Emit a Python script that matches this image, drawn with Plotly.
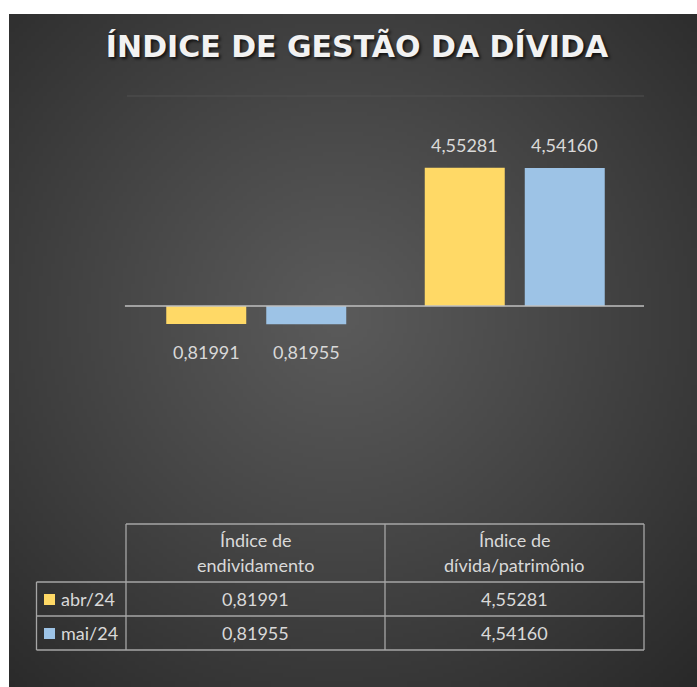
import base64, math, struct, zlib
import plotly.graph_objects as go

# ---------------- data ----------------
categories = ["Índice de endividamento", "Índice de dívida/patrimônio"]
header_lines = [["Índice de", "endividamento"], ["Índice de", "dívida/patrimônio"]]
series_names = ["abr/24", "mai/24"]
abr_values = [0.81991, 4.55281]
mai_values = [0.81955, 4.54160]
series_values = [abr_values, mai_values]
series_colors = ["#FFD966", "#9DC3E6"]
axis_base = 1  # horizontal axis crosses the log value axis at 1
y_log_range = [-1, 1]

def fmt(v):
    return f"{v:.5f}".replace(".", ",")

# ---------------- geometry (pixels) ----------------
W, H = 697, 687
L, R, T, B = 127, 644, 96, 516  # plot area

def px(x):
    return (x - L) / (R - L)

def py(y):
    return (B - y) / (B - T)

def log_to_paper(v):
    return (math.log10(v) - y_log_range[0]) / (y_log_range[1] - y_log_range[0])

# ---------------- background gradient png ----------------
def make_png(w, h):
    rows = []
    cx, cy = 0.48, 0.45
    for j in range(h):
        row = bytearray([0])
        for i in range(w):
            dx = (i / (w - 1) - cx) / 0.75
            dy = (j / (h - 1) - cy) / 0.75
            d = min(1.0, math.sqrt(dx * dx + dy * dy))
            v = int(round(0x5a - (0x5a - 0x29) * d ** 1.1))
            row += bytes([v, v, v])
        rows.append(bytes(row))
    raw = b"".join(rows)

    def chunk(tag, data):
        c = struct.pack(">I", len(data)) + tag + data
        return c + struct.pack(">I", zlib.crc32(tag + data) & 0xFFFFFFFF)

    png = b"\x89PNG\r\n\x1a\n"
    png += chunk(b"IHDR", struct.pack(">IIBBBBB", w, h, 8, 2, 0, 0, 0))
    png += chunk(b"IDAT", zlib.compress(raw, 9))
    png += chunk(b"IEND", b"")
    return "data:image/png;base64," + base64.b64encode(png).decode()

bg_src = make_png(172, 168)

# ---------------- figure ----------------
fig = go.Figure()
for name, vals, col in zip(series_names, series_values, series_colors):
    fig.add_trace(go.Bar(
        x=categories,
        y=[v - axis_base for v in vals],
        base=axis_base,
        name=name,
        marker=dict(color=col, line=dict(width=0)),
        showlegend=False,
        hoverinfo="skip",
    ))

label_color = "#D9D9D9"
font_family = "Lato"
annotations = []
offsets = [-50, 50]
for k, vals in enumerate(series_values):
    for cat, v in zip(categories, vals):
        up = v >= axis_base
        annotations.append(dict(
            x=cat, y=math.log10(v), xref="x", yref="y",
            text=fmt(v), showarrow=False,
            xshift=offsets[k], yshift=10 if up else -15,
            yanchor="bottom" if up else "top",
            font=dict(family=font_family, size=18, color=label_color),
        ))

# ----- data table -----
line_col = "#A6A6A6"
tbl_top, hdr_bot, r1_bot, r2_bot = 524, 582, 616, 650
c_left, c0, c1, c2 = 36.5, 126, 385, 644
shapes = []

def hline(y, x0, x1):
    shapes.append(dict(type="line", xref="paper", yref="paper",
                       x0=px(x0), x1=px(x1), y0=py(y), y1=py(y),
                       line=dict(color=line_col, width=1.3)))

def vline(x, y0, y1):
    shapes.append(dict(type="line", xref="paper", yref="paper",
                       x0=px(x), x1=px(x), y0=py(y0), y1=py(y1),
                       line=dict(color=line_col, width=1.3)))

hline(tbl_top, c0, c2)
for yy in (hdr_bot, r1_bot, r2_bot):
    hline(yy, c_left, c2)
for xx in (c0, c1, c2):
    vline(xx, tbl_top, r2_bot)
vline(c_left, hdr_bot, r2_bot)

# top gridline (value 10) and category axis line at the base value
shapes.append(dict(type="line", xref="paper", yref="paper", x0=0, x1=1,
                   y0=log_to_paper(10), y1=log_to_paper(10),
                   line=dict(color="#505050", width=1.2)))
shapes.append(dict(type="line", xref="paper", yref="paper", x0=-0.004, x1=1,
                   y0=log_to_paper(axis_base), y1=log_to_paper(axis_base),
                   line=dict(color="#BFBFBF", width=1.6)))

col_centers = [(c0 + c1) / 2, (c1 + c2) / 2]
for cc, lines in zip(col_centers, header_lines):
    for ln, yy in zip(lines, (540, 565)):
        annotations.append(dict(x=px(cc), y=py(yy), xref="paper", yref="paper",
                                text=ln, showarrow=False, xanchor="center", yanchor="middle",
                                font=dict(family=font_family, size=18, color=label_color)))
row_centers = [(hdr_bot + r1_bot) / 2, (r1_bot + r2_bot) / 2]
for rc, name, vals, col in zip(row_centers, series_names, series_values, series_colors):
    for cc, v in zip(col_centers, vals):
        annotations.append(dict(x=px(cc), y=py(rc), xref="paper", yref="paper",
                                text=fmt(v), showarrow=False, xanchor="center", yanchor="middle",
                                font=dict(family=font_family, size=18, color=label_color)))
    shapes.append(dict(type="rect", xref="paper", yref="paper",
                       x0=px(44), x1=px(55), y0=py(rc + 6), y1=py(rc - 5),
                       fillcolor=col, line=dict(width=0)))
    annotations.append(dict(x=px(59), y=py(rc), xref="paper", yref="paper",
                            text=name, showarrow=False, xanchor="left", yanchor="middle",
                            font=dict(family=font_family, size=18, color=label_color)))

fig.update_layout(
    width=W, height=H,
    margin=dict(l=L, r=W - R, t=T, b=H - B, pad=0),
    paper_bgcolor="#FFFFFF",
    plot_bgcolor="rgba(0,0,0,0)",
    barmode="group",
    bargap=0.2263,
    bargroupgap=0.2,
    title=dict(
        text="ÍNDICE DE GESTÃO DA DÍVIDA",
        x=357 / W, xanchor="center", xref="container",
        y=1 - 46 / H, yanchor="middle", yref="container",
        font=dict(family="DejaVu Sans", size=30, color="#F2F2F2", weight=700,
                  shadow="2px 2px 3px rgba(0,0,0,0.7)"),
    ),
    xaxis=dict(showticklabels=False, showgrid=False, zeroline=False,
               showline=False, ticks=""),
    yaxis=dict(type="log", range=y_log_range, showticklabels=False, ticks="",
               showgrid=False, zeroline=False, showline=False),
    images=[dict(source=bg_src, xref="paper", yref="paper",
                 x=px(9), y=py(14), sizex=px(W) - px(9), sizey=py(14) - py(H),
                 xanchor="left", yanchor="top", sizing="stretch", layer="below")],
    shapes=shapes,
    annotations=annotations,
)

fig.write_html("out.html", config={"displayModeBar": False},
               post_script="document.body.style.margin='0';")
